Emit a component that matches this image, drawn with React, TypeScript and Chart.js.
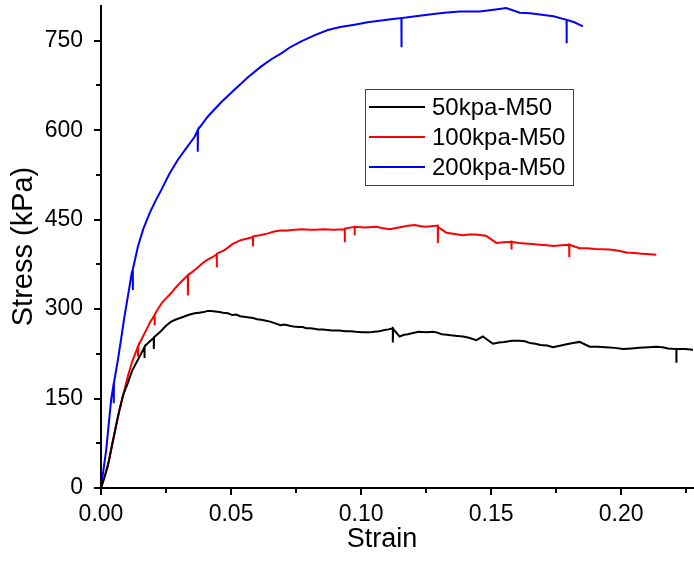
import React, { useEffect, useRef } from "react";
import { Chart, registerables } from "chart.js";

Chart.register(...registerables);

const FONT = "'Liberation Sans', Arial, Helvetica, sans-serif";

const seriesLabels = ["50kpa-M50", "100kpa-M50", "200kpa-M50"];
const seriesColors = ["#000000", "#ff0000", "#0000ff"];

const xTickValues = [0, 0.025, 0.05, 0.075, 0.1, 0.125, 0.15, 0.175, 0.2, 0.225];
const xTickLabels = ["0.00", "", "0.05", "", "0.10", "", "0.15", "", "0.20", ""];
const yTickValues = [0, 75, 150, 225, 300, 375, 450, 525, 600, 675, 750];
const yTickLabels = ["0", "", "150", "", "300", "", "450", "", "600", "", "750"];

const xTitle = "Strain";
const yTitle = "Stress (kPa)";

const strain50 = [0, 0.0015, 0.003, 0.0039, 0.0055, 0.0071, 0.0085, 0.0103, 0.012, 0.0142, 0.0155, 0.0167, 0.0167, 0.0168, 0.0185, 0.0203, 0.0203, 0.0204, 0.0215, 0.023, 0.025, 0.027, 0.029, 0.031, 0.0335, 0.036, 0.0378, 0.0395, 0.041, 0.0424, 0.044, 0.0455, 0.047, 0.0488, 0.0505, 0.052, 0.0535, 0.055, 0.057, 0.0585, 0.06, 0.0616, 0.063, 0.065, 0.067, 0.069, 0.0705, 0.0725, 0.074, 0.076, 0.0775, 0.079, 0.0805, 0.082, 0.0835, 0.0853, 0.087, 0.089, 0.0915, 0.094, 0.096, 0.098, 0.1005, 0.1033, 0.105, 0.107, 0.109, 0.1105, 0.1122, 0.1122, 0.1123, 0.1148, 0.1165, 0.118, 0.12, 0.122, 0.125, 0.1276, 0.129, 0.131, 0.133, 0.1345, 0.137, 0.1392, 0.1415, 0.1443, 0.1468, 0.1507, 0.153, 0.155, 0.158, 0.161, 0.163, 0.165, 0.167, 0.169, 0.1715, 0.1738, 0.176, 0.179, 0.1815, 0.184, 0.1879, 0.191, 0.194, 0.1975, 0.2007, 0.204, 0.207, 0.2105, 0.2135, 0.216, 0.218, 0.2212, 0.2212, 0.2213, 0.2245, 0.2276];
const stress50 = [0, 20, 45, 64, 98, 131, 156, 176, 197, 215, 226, 236, 218, 237, 245, 252, 233, 253, 257, 263, 272, 279, 283, 286, 290, 293, 294, 295, 297, 297, 296, 295, 294, 293, 290, 291, 288, 287, 286, 285, 283, 282, 281, 279, 276, 273, 274, 272, 271, 270, 270, 268, 268, 267, 266, 266, 265, 264, 264, 263, 263, 262, 261, 261, 262, 263, 265, 266, 268, 244, 267, 254, 257, 258, 260, 262, 261, 262, 261, 258, 257, 256, 255, 254, 252, 248, 254, 242, 244, 245, 247, 247, 246, 243, 242, 240, 239, 236, 238, 241, 243, 245, 237, 237, 236, 235, 233, 234, 235, 236, 237, 236, 234, 233, 210, 233, 233, 232];

const strain100 = [0, 0.0026, 0.0045, 0.0065, 0.0085, 0.0103, 0.012, 0.0142, 0.0142, 0.0143, 0.016, 0.0175, 0.019, 0.0206, 0.0206, 0.0207, 0.022, 0.0235, 0.025, 0.027, 0.0285, 0.03, 0.0318, 0.0334, 0.0334, 0.0335, 0.035, 0.037, 0.039, 0.041, 0.0428, 0.0445, 0.0445, 0.0446, 0.0475, 0.0505, 0.0539, 0.056, 0.0584, 0.0584, 0.0585, 0.061, 0.0642, 0.0665, 0.069, 0.0715, 0.0744, 0.0772, 0.0802, 0.0828, 0.0853, 0.0895, 0.0937, 0.0937, 0.0938, 0.0975, 0.0975, 0.0976, 0.1015, 0.1058, 0.108, 0.111, 0.1135, 0.116, 0.118, 0.1206, 0.123, 0.125, 0.1295, 0.1295, 0.1296, 0.1328, 0.136, 0.1392, 0.1415, 0.144, 0.148, 0.152, 0.1548, 0.1578, 0.1578, 0.1579, 0.1605, 0.163, 0.166, 0.1687, 0.1715, 0.174, 0.177, 0.18, 0.18, 0.1801, 0.184, 0.187, 0.19, 0.1956, 0.199, 0.202, 0.205, 0.208, 0.211, 0.2135];
const stress100 = [0, 36, 78, 120, 155, 187, 212, 237, 220, 238, 253, 266, 279, 290, 273, 291, 301, 311, 318, 327, 335, 342, 350, 357, 323, 357, 362, 369, 377, 383, 387, 392, 370, 393, 399, 409, 416, 418, 421, 405, 422, 424, 427, 430, 432, 432, 433, 434, 433, 433, 434, 433, 434, 412, 435, 438, 424, 438, 437, 438, 436, 434, 436, 438, 440, 441, 439, 438, 440, 411, 438, 428, 426, 424, 425, 425, 423, 411, 412, 413, 400, 413, 411, 410, 409, 408, 407, 406, 407, 408, 387, 408, 402, 402, 401, 400, 398, 395, 394, 393, 392, 391];

const strain200 = [0, 0.002, 0.0039, 0.0049, 0.0049, 0.005, 0.0065, 0.0078, 0.009, 0.0104, 0.0118, 0.0122, 0.0122, 0.0123, 0.0142, 0.0163, 0.0187, 0.021, 0.0232, 0.0262, 0.0295, 0.0328, 0.036, 0.0372, 0.0372, 0.0373, 0.0411, 0.0462, 0.0513, 0.0565, 0.0616, 0.0655, 0.0693, 0.073, 0.077, 0.082, 0.0872, 0.092, 0.0975, 0.1025, 0.1078, 0.1115, 0.1155, 0.1155, 0.1156, 0.121, 0.1263, 0.132, 0.138, 0.142, 0.1456, 0.151, 0.1558, 0.161, 0.165, 0.1687, 0.174, 0.179, 0.179, 0.1791, 0.182, 0.1853];
const stress200 = [0, 64, 148, 176, 142, 177, 215, 252, 287, 323, 360, 366, 332, 367, 405, 435, 461, 482, 500, 526, 550, 570, 589, 600, 564, 601, 623, 647, 668, 689, 707, 719, 729, 740, 749, 759, 768, 773, 777, 781, 784, 786, 788, 739, 788, 791, 794, 797, 799, 799, 799, 802, 805, 797, 796, 794, 791, 785, 746, 785, 781, 774];

const toPoints = (xs: number[], ys: number[]) => xs.map((x, i) => ({ x, y: ys[i] }));

const axesPlugin = {
  id: "originAxes",
  afterDraw(chart: any) {
    const ctx = chart.ctx;
    const xs = chart.scales.x;
    const ys = chart.scales.y;
    const area = chart.chartArea;
    ctx.save();
    ctx.strokeStyle = "#000";
    ctx.lineWidth = 2;
    ctx.beginPath();
    ctx.moveTo(area.left, area.top);
    ctx.lineTo(area.left, area.bottom);
    ctx.lineTo(area.right, area.bottom);
    ctx.stroke();
    xTickValues.forEach((v, i) => {
      const px = Math.round(xs.getPixelForValue(v));
      const len = xTickLabels[i] ? 7 : 5;
      ctx.beginPath();
      ctx.moveTo(px, area.bottom);
      ctx.lineTo(px, area.bottom + len);
      ctx.stroke();
    });
    yTickValues.forEach((v, i) => {
      const py = Math.round(ys.getPixelForValue(v));
      const len = yTickLabels[i] ? 7 : 5;
      ctx.beginPath();
      ctx.moveTo(area.left, py);
      ctx.lineTo(area.left - len, py);
      ctx.stroke();
    });
    ctx.fillStyle = "#000";
    ctx.font = `27px ${FONT}`;
    ctx.textAlign = "center";
    ctx.textBaseline = "middle";
    ctx.fillText(xTitle, 382, 540);
    const bx = 365, by = 89, bw = 208, bh = 96;
    ctx.fillStyle = "#fff";
    ctx.fillRect(bx, by, bw, bh);
    ctx.strokeStyle = "#444";
    ctx.lineWidth = 1;
    ctx.strokeRect(bx + 0.5, by + 0.5, bw, bh);
    chart.data.datasets.forEach((ds: any, i: number) => {
      const cy = by + 18 + i * 30;
      ctx.strokeStyle = ds.borderColor;
      ctx.lineWidth = 2;
      ctx.beginPath();
      ctx.moveTo(bx + 4, cy);
      ctx.lineTo(bx + 60, cy);
      ctx.stroke();
      ctx.fillStyle = "#000";
      ctx.font = `24px ${FONT}`;
      ctx.textAlign = "left";
      ctx.textBaseline = "middle";
      ctx.fillText(ds.label, bx + 67, cy + 1);
    });
    ctx.restore();
  },
};

export default function App() {
  const ref = useRef<HTMLCanvasElement | null>(null);
  useEffect(() => {
    if (!ref.current) return;
    const stresses = [stress50, stress100, stress200];
    const strains = [strain50, strain100, strain200];
    const zeroPad = (s: any) => {
      s.paddingTop = 0;
      s.paddingBottom = 0;
      s.paddingLeft = 0;
      s.paddingRight = 0;
    };
    const chart = new Chart(ref.current, {
      type: "line",
      data: {
        datasets: seriesLabels.map((label, i) => ({
          label,
          data: toPoints(strains[i], stresses[i]),
          borderColor: seriesColors[i],
          backgroundColor: seriesColors[i],
          borderWidth: 2,
          pointRadius: 0,
          tension: 0,
          fill: false,
        })),
      },
      options: {
        animation: false,
        responsive: false,
        layout: { padding: { top: 5, right: 0, left: 0, bottom: 0 } },
        plugins: { legend: { display: false }, tooltip: { enabled: false } },
        scales: {
          x: {
            type: "linear",
            min: 0,
            max: 0.228,
            afterBuildTicks: (s: any) => {
              s.ticks = xTickValues.map((v) => ({ value: v }));
            },
            afterFit: (s: any) => {
              s.height = 73;
              zeroPad(s);
            },
            grid: { display: false, drawTicks: false },
            border: { display: false },
            ticks: {
              autoSkip: false,
              maxRotation: 0,
              padding: 13,
              color: "#000",
              font: { family: FONT, size: 23 },
              callback: (v: any) => {
                const i = xTickValues.findIndex((t) => Math.abs(t - v) < 1e-9);
                return i >= 0 ? xTickLabels[i] : "";
              },
            },
          },
          y: {
            type: "linear",
            min: 0,
            max: 810,
            afterBuildTicks: (s: any) => {
              s.ticks = yTickValues.map((v) => ({ value: v }));
            },
            afterFit: (s: any) => {
              s.width = 101;
              zeroPad(s);
            },
            grid: { display: false, drawTicks: false },
            border: { display: false },
            title: {
              display: true,
              text: yTitle,
              color: "#000",
              font: { family: FONT, size: 29 },
              padding: { top: 7, bottom: 0 },
            },
            ticks: {
              autoSkip: false,
              padding: 18,
              color: "#000",
              font: { family: FONT, size: 23 },
              callback: (v: any) => {
                const i = yTickValues.indexOf(v);
                return i >= 0 ? yTickLabels[i] : "";
              },
            },
          },
        },
      },
      plugins: [axesPlugin],
    });
    return () => chart.destroy();
  }, []);
  return (
    <div style={{ position: "fixed", left: 0, top: 0, width: 694, height: 561, background: "#fff" }}>
      <canvas ref={ref} width={694} height={561} style={{ display: "block" }} />
    </div>
  );
}
